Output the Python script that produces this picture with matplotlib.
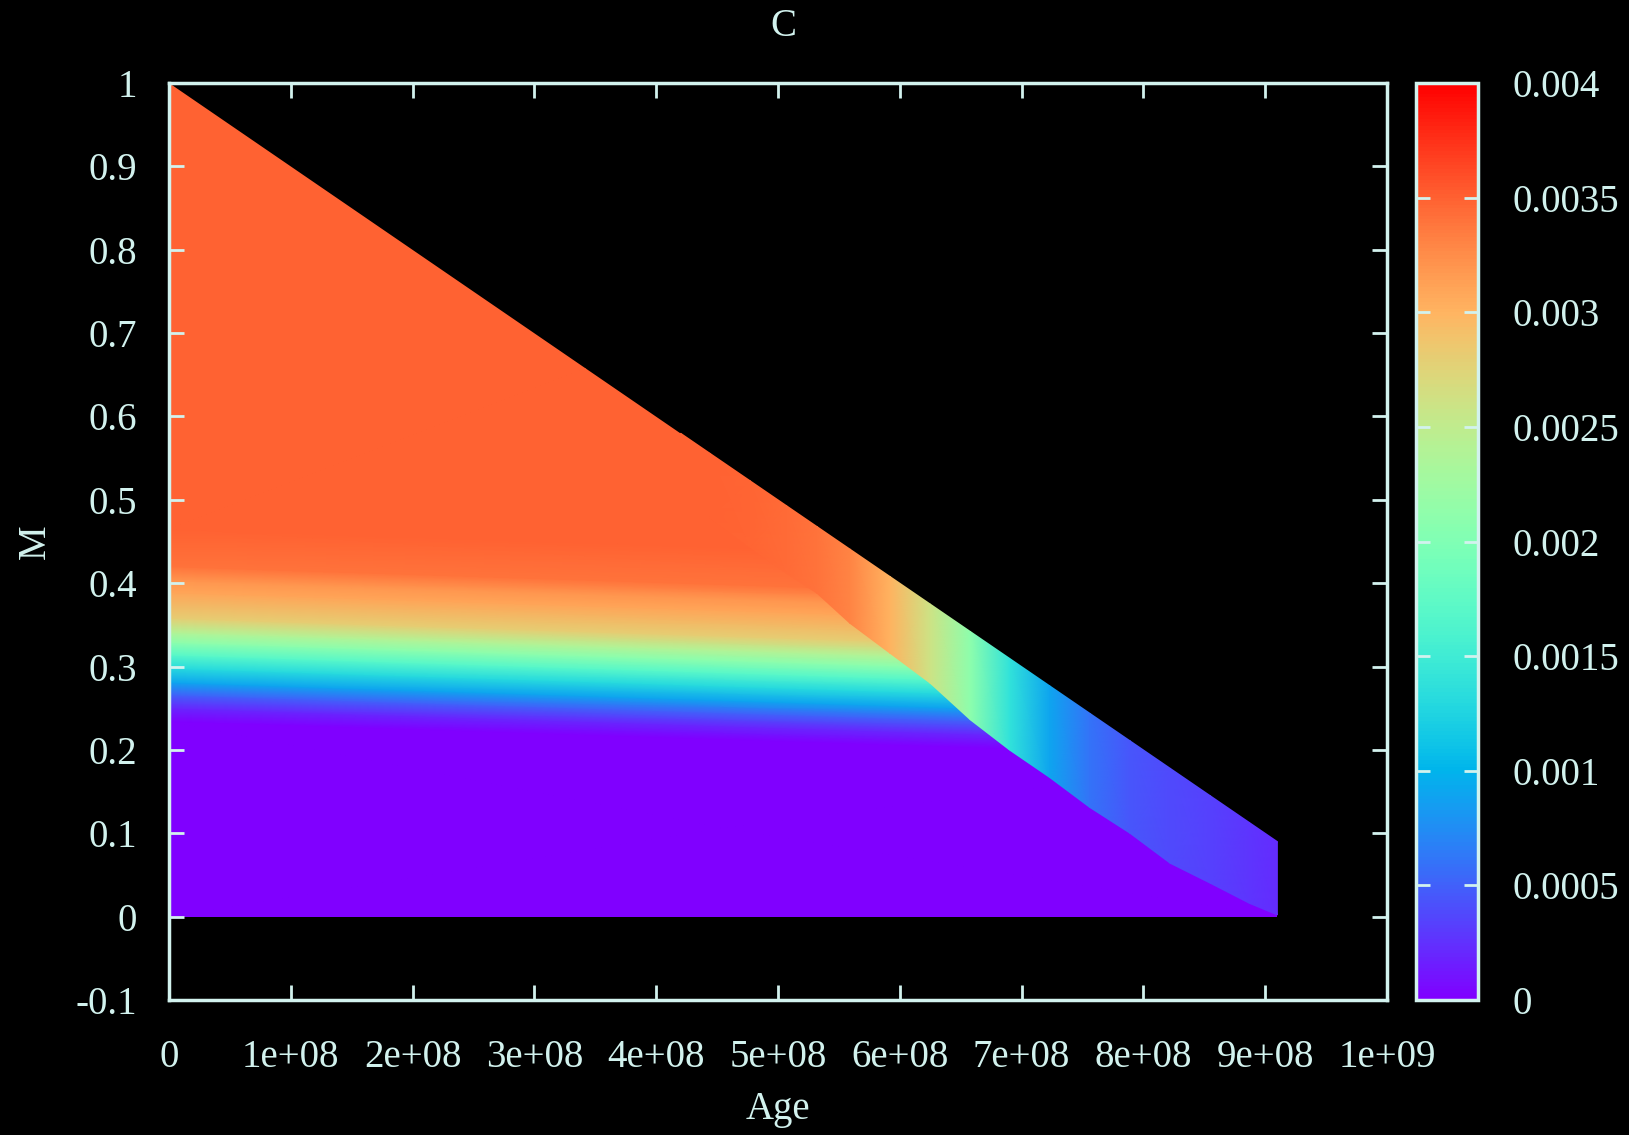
import numpy as np
import matplotlib.pyplot as plt
from matplotlib.patches import Polygon

plt.rcParams['font.family'] = ['Liberation Serif', 'DejaVu Serif']

# domain of the model grid (Age, M)
domain_age = [0, 0, 9.1e8, 9.1e8]
domain_m = [0, 1.0, 0.09, 0]

# main field: C as a function of M, read at Age = 0 and Age = 9.1e8
main_ages = [0, 9.1e8]
c_levels = [0, 0, 0.0002, 0.0005, 0.0009, 0.0013, 0.0017, 0.0021,
            0.0024, 0.0028, 0.0031, 0.0032, 0.0034, 0.00349, 0.00349]
m_left = [0, 0.234, 0.25, 0.266, 0.281, 0.298, 0.314, 0.329,
          0.341, 0.358, 0.389, 0.403, 0.42, 0.465, 1.0]
m_right = [0, 0.191, 0.207, 0.223, 0.238, 0.255, 0.271, 0.286,
           0.298, 0.315, 0.346, 0.36, 0.377, 0.422, 1.0]

# strip along the upper edge where C changes with Age
strip_age = [4.2e8, 4.44e8, 4.77e8, 5.07e8, 5.32e8, 5.59e8, 5.92e8, 6.25e8,
             6.58e8, 6.9e8, 7.23e8, 7.56e8, 7.89e8, 8.22e8, 8.55e8, 8.87e8, 9.1e8]
strip_low = [0.578, 0.479, 0.443, 0.412, 0.388, 0.352, 0.316, 0.28,
             0.236, 0.2, 0.167, 0.131, 0.10, 0.064, 0.04, 0.016, 0.002]
strip_top = [0.58, 0.556, 0.523, 0.493, 0.468, 0.441, 0.408, 0.375,
             0.342, 0.31, 0.277, 0.244, 0.211, 0.178, 0.145, 0.113, 0.09]
strip_c = [0.00349, 0.00349, 0.00348, 0.00345, 0.0034, 0.0033, 0.0030, 0.0026,
           0.0021, 0.0014, 0.0009, 0.0006, 0.00044, 0.00038, 0.00033, 0.00028, 0.00022]

x_ticks = [0, 1e8, 2e8, 3e8, 4e8, 5e8, 6e8, 7e8, 8e8, 9e8, 1e9]
x_labels = ['0', '1e+08', '2e+08', '3e+08', '4e+08', '5e+08', '6e+08',
            '7e+08', '8e+08', '9e+08', '1e+09']
y_ticks = [-0.1, 0, 0.1, 0.2, 0.3, 0.4, 0.5, 0.6, 0.7, 0.8, 0.9, 1.0]
y_labels = ['-0.1', '0', '0.1', '0.2', '0.3', '0.4', '0.5', '0.6',
            '0.7', '0.8', '0.9', '1']
cb_ticks = [0, 0.0005, 0.001, 0.0015, 0.002, 0.0025, 0.003, 0.0035, 0.004]
cb_labels = ['0', '0.0005', '0.001', '0.0015', '0.002', '0.0025',
             '0.003', '0.0035', '0.004']

fg = '#d2f2ee'
fs = 28
W, H = 1629, 1135

fig = plt.figure(figsize=(W / 100, H / 100), dpi=100, facecolor='black')
ax = fig.add_axes([169 / W, 1 - 1000 / H, 1218 / W, 917 / H], facecolor='black')
cax = fig.add_axes([1416 / W, 1 - 1000 / H, 62 / W, 917 / H])

n = len(c_levels)
X = np.tile(main_ages, (n, 1))
Y = np.column_stack([m_left, m_right])
C = np.column_stack([c_levels, c_levels])
mesh = ax.pcolormesh(X, Y, C, shading='gouraud', cmap='rainbow', vmin=0, vmax=0.004)
clip = Polygon(np.column_stack([domain_age, domain_m]), closed=True,
               transform=ax.transData, facecolor='none', edgecolor='none')
ax.add_patch(clip)
mesh.set_clip_path(clip)

SX = np.vstack([strip_age, strip_age])
SY = np.vstack([strip_low, strip_top])
SC = np.vstack([strip_c, strip_c])
ax.pcolormesh(SX, SY, SC, shading='gouraud', cmap='rainbow', vmin=0, vmax=0.004)

ax.set_xlim(0, 1e9)
ax.set_ylim(-0.1, 1.0)
ax.set_xticks(x_ticks)
ax.set_xticklabels(x_labels)
ax.set_yticks(y_ticks)
ax.set_yticklabels(y_labels)
ax.tick_params(axis='both', direction='in', top=True, right=True, length=11, width=2,
               color=fg, labelcolor=fg, labelsize=fs)
ax.tick_params(axis='x', pad=28)
ax.tick_params(axis='y', pad=23)
for s in ax.spines.values():
    s.set_color(fg)
    s.set_linewidth(2.5)

ax.set_xlabel('Age', color=fg, fontsize=fs, va='center')
ax.xaxis.set_label_coords(0.5, (1000 - 1110) / 917)
ax.set_ylabel('M', color=fg, fontsize=fs, va='center')
ax.yaxis.set_label_coords((35 - 169) / 1218, 0.5)
fig.text(0.5 * (169 + 1387) / W + 5 / W, 1 - 26 / H, 'C', color=fg, fontsize=fs,
         ha='center', va='center')

cb = fig.colorbar(mesh, cax=cax, ticks=cb_ticks)
cb.ax.set_yticklabels(cb_labels)
cb.outline.set_edgecolor(fg)
cb.outline.set_linewidth(2.5)
cax.tick_params(direction='in', left=True, right=True, length=10, width=2,
                color=fg, labelcolor=fg, labelsize=fs, pad=25)

fig.savefig('out.png', dpi=100, facecolor='black')
